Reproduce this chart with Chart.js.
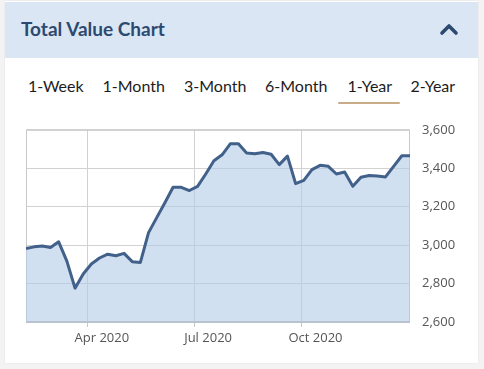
<!DOCTYPE html>
<html>
<head>
<meta charset="utf-8">
<script src="https://cdn.jsdelivr.net/npm/chart.js@4/dist/chart.umd.min.js"></script>
<style>
  html, body { margin: 0; padding: 0; width: 484px; height: 369px; background: #f3f3f3; overflow: hidden; }
  #card { position: absolute; left: 5px; top: 1px; width: 473px; height: 362px; background: #ffffff; box-shadow: 0 0 2px rgba(0,0,0,0.08); }
  #header { position: absolute; left: 0; top: 1px; width: 473px; height: 56px; background: #dbe6f4; }
  #title { position: absolute; left: 16px; top: 15px; font-family: Lato, sans-serif; font-weight: 700; font-size: 19px; color: #2c4a70; white-space: nowrap; }
  #chev { position: absolute; left: 434px; top: 20px; }
  .tab { position: absolute; top: 76px; font-family: Lato, sans-serif; font-size: 16px; color: #1c1c1c; white-space: nowrap; }
  #uline { position: absolute; left: 338px; top: 102px; width: 62px; height: 2px; background: #c9ab87; border-radius: 1px; }
  #wrap { position: absolute; left: 0; top: 110px; width: 484px; height: 250px; }
</style>
</head>
<body>
<div id="card">
  <div id="header">
    <div id="title">Total Value Chart</div>
    <svg id="chev" width="20" height="14" viewBox="0 0 20 14"><polyline points="3,11 10,4 17,11" fill="none" stroke="#2c4a70" stroke-width="3.6" stroke-linecap="round" stroke-linejoin="round"/></svg>
  </div>
</div>
<div id="tabs"></div>
<div id="uline"></div>
<div id="wrap"><canvas id="c" width="484" height="250"></canvas></div>
<script>
// ---- data ----
const tabLabels = ['1-Week', '1-Month', '3-Month', '6-Month', '1-Year', '2-Year'];
const weekDates = [
  '2020-02-08','2020-02-15','2020-02-22','2020-02-29','2020-03-07','2020-03-14','2020-03-21','2020-03-28',
  '2020-04-04','2020-04-11','2020-04-18','2020-04-25','2020-05-02','2020-05-09','2020-05-16','2020-05-23',
  '2020-05-30','2020-06-06','2020-06-13','2020-06-20','2020-06-27','2020-07-04','2020-07-11','2020-07-18',
  '2020-07-25','2020-08-01','2020-08-08','2020-08-15','2020-08-22','2020-08-29','2020-09-05','2020-09-12',
  '2020-09-19','2020-09-26','2020-10-03','2020-10-10','2020-10-17','2020-10-24','2020-10-31','2020-11-07',
  '2020-11-14','2020-11-21','2020-11-28','2020-12-05','2020-12-12','2020-12-19','2020-12-26','2021-01-02'
];
const totalValues = [
  2982, 2991, 2995, 2988, 3017, 2917, 2776, 2850,
  2902, 2933, 2953, 2945, 2957, 2914, 2910, 3065,
  3143, 3220, 3301, 3301, 3284, 3306, 3370, 3439,
  3470, 3527, 3527, 3479, 3475, 3482, 3473, 3419,
  3463, 3320, 3337, 3393, 3415, 3410, 3370, 3380,
  3306, 3353, 3362, 3360, 3355, 3410, 3465, 3465
];
const xTickDates = ['2020-04-01', '2020-07-01', '2020-10-01'];
const xTickLabels = ['Apr 2020', 'Jul 2020', 'Oct 2020'];
const yTicks = [2600, 2800, 3000, 3200, 3400, 3600];

// ---- tabs ----
const tabX = [28, 102.5, 184, 265, 347.5, 410.5];
const tabsEl = document.getElementById('tabs');
tabLabels.forEach((t, i) => {
  const s = document.createElement('span');
  s.className = 'tab';
  s.style.left = tabX[i] + 'px';
  s.textContent = t;
  tabsEl.appendChild(s);
});

// ---- chart ----
const toMs = d => Date.parse(d + 'T00:00:00Z');
const points = weekDates.map((d, i) => ({ x: toMs(d), y: totalValues[i] }));
const tickMs = xTickDates.map(toMs);

const frame = {
  id: 'frame',
  beforeDatasetsDraw(chart) {
    const { ctx, chartArea: a } = chart;
    ctx.save();
    ctx.strokeStyle = '#c8c8c8';
    ctx.lineWidth = 1;
    ctx.beginPath();
    ctx.moveTo(a.left + 0.5, a.bottom);
    ctx.lineTo(a.left + 0.5, a.top + 0.5);
    ctx.lineTo(a.right - 0.5, a.top + 0.5);
    ctx.lineTo(a.right - 0.5, a.bottom);
    ctx.stroke();
    ctx.restore();
  },
  afterDatasetsDraw(chart) {
    const { ctx, chartArea: a } = chart;
    ctx.save();
    ctx.strokeStyle = '#b9c3cd';
    ctx.lineWidth = 2;
    ctx.beginPath();
    ctx.moveTo(a.left, a.bottom);
    ctx.lineTo(a.right, a.bottom);
    ctx.stroke();
    ctx.restore();
  }
};

new Chart(document.getElementById('c'), {
  type: 'line',
  data: {
    datasets: [{
      data: points,
      borderColor: '#41618a',
      borderWidth: 3,
      backgroundColor: 'rgba(178,204,230,0.6)',
      fill: 'start',
      tension: 0,
      pointRadius: 0,
      borderJoinStyle: 'round'
    }]
  },
  options: {
    responsive: false,
    animation: false,
    events: [],
    layout: { padding: { left: 26, top: 18, right: 0, bottom: 0 } },
    plugins: { legend: { display: false }, tooltip: { enabled: false } },
    scales: {
      x: {
        type: 'linear',
        min: toMs(weekDates[0]),
        max: toMs(weekDates[weekDates.length - 1]),
        afterBuildTicks: s => { s.ticks = tickMs.map(v => ({ value: v })); },
        afterFit: s => { s.height = 38; },
        grid: { color: '#d2d2d2', lineWidth: 1, drawTicks: true, tickLength: 5, tickColor: '#c8c8c8' },
        border: { display: false },
        ticks: {
          autoSkip: false,
          maxRotation: 0,
          padding: 3,
          labelOffset: 14,
          color: '#555555',
          font: { family: "'Open Sans', sans-serif", size: 13 },
          callback: v => { const i = tickMs.indexOf(v); return i >= 0 ? xTickLabels[i] : ''; }
        }
      },
      y: {
        position: 'right',
        min: yTicks[0],
        max: yTicks[yTicks.length - 1],
        afterBuildTicks: s => { s.ticks = yTicks.map(v => ({ value: v })); },
        afterFit: s => { s.width = 74; },
        grid: { color: '#d2d2d2', lineWidth: 1, drawTicks: false },
        border: { display: false },
        ticks: {
          padding: 12,
          color: '#555555',
          font: { family: "'Open Sans', sans-serif", size: 13 },
          callback: v => v.toLocaleString('en-US')
        }
      }
    }
  },
  plugins: [frame]
});
</script>
</body>
</html>
